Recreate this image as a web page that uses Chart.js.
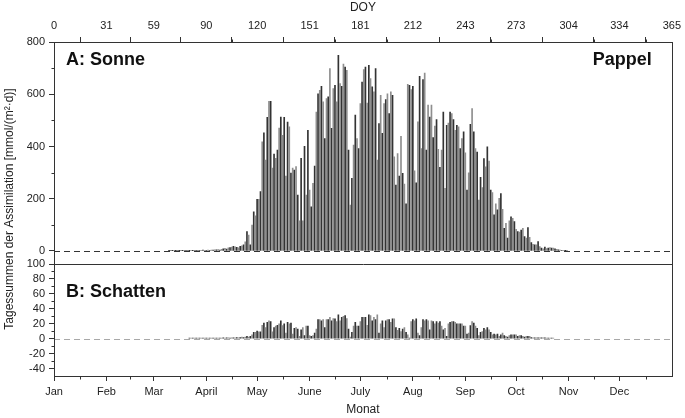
<!DOCTYPE html>
<html>
<head>
<meta charset="utf-8">
<script src="https://cdn.jsdelivr.net/npm/chart.js@4.4.0/dist/chart.umd.min.js"></script>
<style>
  html, body { margin: 0; padding: 0; background: #fff; }
  #wrap { position: relative; width: 685px; height: 418px; }
</style>
</head>
<body>
<div id="wrap"><canvas id="chart" width="685" height="418"></canvas></div>
<script>
// axis labels
const monthLabels = ['Jan', 'Feb', 'Mar', 'April', 'May', 'June', 'July', 'Aug', 'Sep', 'Oct', 'Nov', 'Dec'];
const monthStarts = [0, 31, 59, 90, 120, 151, 181, 212, 243, 273, 304, 334];
const doyTicks = [0, 31, 59, 90, 120, 151, 181, 212, 243, 273, 304, 334, 365];
const sonneTicks = [0, 200, 400, 600, 800];
const schattenTicks = [-40, -20, 0, 20, 40, 60, 80, 100];

// A: Sonne, daily sums from DOY 68
const sonneStart = 68;
const sonne = [
  1, 1, 1, 1, 1, 1, 1, 1, 1, 1, 2, 1, 1, 2, 1, 1, 2, 1,
  2, 2, 3, 2, 2, 3, 2, 3, 3, 4,
  4, 5, 3, 6, 8, 10, 7, 12,
  13, 15, 18, 16, 14, 12, 18, 20,
  23, 35, 74, 61, 23, 99, 150, 134, 198, 198, 227, 418, 452, 348, 512, 573, 573, 317, 371, 355,
  386, 470, 513, 443, 512, 287, 493, 475, 298, 317, 310, 323, 214, 115, 355, 115, 401, 214, 462, 233, 169,
  259, 325, 532, 602, 615, 630, 571, 430, 583, 590, 698, 469, 622, 634, 571, 749, 641, 630, 715, 704,
  692, 386, 176, 278, 405, 520, 430, 392, 564, 647, 694, 704, 566, 711, 660, 628, 609, 698, 348, 488,
  596, 450, 564, 580, 602, 526, 609, 596, 360, 252,
  373, 287, 439, 297, 256, 180, 638, 634, 618, 630, 307, 261, 494, 669, 392, 656, 681, 386, 558, 513,
  558, 434, 478, 503, 389, 320, 386, 532, 240, 481, 490, 532, 526, 503, 462, 481, 475, 392, 430, 456,
  376, 233, 299, 485, 545, 456, 392, 379, 195, 282,
  243, 354, 322, 399, 344, 233, 223, 138, 180, 157, 201, 220, 159, 87, 106, 49, 115, 131, 125, 112,
  83, 74, 72, 80, 87, 55, 49, 89, 52, 32, 25, 23, 23, 36, 17, 11, 8, 15, 9, 11,
  13, 11, 11, 8, 6, 4, 3, 2, 2, 1, 1
];

// B: Schatten, daily sums from DOY 80
const schattenStart = 80;
const schatten = [
  0.5, 0.5, 0.5, 0.5, 0.5, 0.5, 0.5, 0.5, 0.5, 0.5, 0.5, 0.5, 0.5, 0.5, 0.5, 0.5, 0.5, 0.5,
  0.5, 0.5, 1, 0.5, 1, 1, 0.5, 1, 1, 1, 1.5, 1, 1.5, 2, 1.5, 2,
  3, 2, 3, 5, 8.5, 8.5, 10, 9, 9,
  18, 21, 15, 22, 24, 23, 9, 15, 17, 18, 20, 24, 17.5, 20, 7.6, 22, 20, 21, 6, 14,
  15, 13, 3, 12, 15, 4, 17, 17, 4, 3, 4, 7.6, 13, 25.6, 25.6, 24, 25.6, 15, 25.6,
  25.6, 28.7, 24, 27, 26.5, 23, 31.8, 24, 28.7,
  30, 31, 27, 13, 2, 8.5, 17, 22, 17, 17, 23, 28.7, 28.7, 28.7, 18, 32, 31, 24, 28.7, 25.6,
  32, 7.6, 20, 24, 15, 24, 25.6, 25.6, 22, 26.5, 26.5, 15, 11, 14, 9.4, 13, 15, 8.5, 5, 0.5,
  23, 25.6, 24, 26.5, 7.6, 4, 15, 25.6, 24, 25.6, 24, 12, 24, 23, 20, 23, 21, 23, 17, 12,
  14, 3, 20, 22, 23, 23, 22, 20, 20, 20, 20, 17, 17,
  6, 7.6, 17.5, 23, 21, 17, 14, 4, 8.5, 9.4, 14, 12, 15, 12, 8.5, 5, 6, 5, 6, 3,
  5, 7.6, 4, 3, 2, 4, 5, 5, 5, 5, 3, 4, 4, 3, 2, 3, 3, 3, 1.3,
  1, 1, 1, 1, 1, 1, 1, 1, 0.8, 0.8, 0.5, 0.5, 0.5
];

const INK = '#222';
const FONT = '"Liberation Sans", Arial, sans-serif';
Chart.defaults.font.family = FONT;
Chart.defaults.color = INK;

const toPoints = (start, vals) => vals.map((v, i) => ({ x: start + i, y: v }));
const shades = n => Array.from({ length: n }, (_, i) => (i % 2 ? '#8e8e8e' : '#333333'));

const mids = arr => arr.slice(1).map((v, i) => (v + arr[i]) / 2);

// minor ticks, outer frame, zero lines, panel labels
const decor = {
  id: 'decor',
  afterDatasetsDraw(chart) {
    const { ctx, chartArea: a, scales } = chart;
    const yA = scales.yA, yB = scales.yB, x = scales.x, x2 = scales.x2;
    ctx.save();

    // zero lines
    ctx.lineWidth = 1;
    ctx.setLineDash([6, 4]);
    ctx.strokeStyle = '#333';
    let z = Math.round(yA.getPixelForValue(0)) + 0.5;
    ctx.beginPath(); ctx.moveTo(a.left, z); ctx.lineTo(a.right, z); ctx.stroke();
    ctx.strokeStyle = '#a8a8a8';
    z = Math.round(yB.getPixelForValue(0)) + 0.5;
    ctx.beginPath(); ctx.moveTo(a.left, z); ctx.lineTo(a.right, z); ctx.stroke();
    ctx.setLineDash([]);

    // frame + divider
    ctx.strokeStyle = '#333';
    const L = Math.round(a.left) + 0.5, R = Math.round(a.right) + 0.5;
    const T = Math.round(a.top) + 0.5, B = Math.round(a.bottom) + 0.5;
    ctx.strokeRect(L, T, R - L, B - T);
    const D = Math.round(yB.top) + 0.5;
    ctx.beginPath(); ctx.moveTo(L, D); ctx.lineTo(R, D); ctx.stroke();

    // minor ticks
    ctx.beginPath();
    mids(doyTicks).forEach(v => { const p = Math.round(x2.getPixelForValue(v)) + 0.5; ctx.moveTo(p, T); ctx.lineTo(p, T - 3); });
    mids(monthStarts.concat(365)).forEach(v => { const p = Math.round(x.getPixelForValue(v)) + 0.5; ctx.moveTo(p, B); ctx.lineTo(p, B + 3); });
    mids(sonneTicks).forEach(v => { const p = Math.round(yA.getPixelForValue(v)) + 0.5; ctx.moveTo(L, p); ctx.lineTo(L - 3, p); });
    mids(schattenTicks).forEach(v => { const p = Math.round(yB.getPixelForValue(v)) + 0.5; ctx.moveTo(L, p); ctx.lineTo(L - 3, p); });
    ctx.stroke();

    // panel labels
    ctx.fillStyle = '#111';
    ctx.font = 'bold 18px ' + FONT;
    ctx.textBaseline = 'middle';
    ctx.textAlign = 'left';
    ctx.fillText('A: Sonne', a.left + 12, a.top + 18);
    ctx.fillText('B: Schatten', a.left + 12, yB.top + 28);
    ctx.textAlign = 'right';
    ctx.fillText('Pappel', a.right - 20, a.top + 18);

    // y title spanning both panels
    ctx.font = '12px ' + FONT;
    ctx.fillStyle = INK;
    ctx.textAlign = 'center';
    ctx.translate(10, (a.top + a.bottom) / 2);
    ctx.rotate(-Math.PI / 2);
    ctx.fillText('Tagessummen der Assimilation [mmol/(m\u00B2\u00B7d)]', 0, 0);
    ctx.restore();
  }
};

const tickFont = { size: 11, family: FONT };
const gridOpts = { drawOnChartArea: false, tickLength: 5, color: '#333', tickColor: '#333' };

new Chart(document.getElementById('chart'), {
  type: 'bar',
  data: {
    datasets: [
      {
        label: 'Sonne', data: toPoints(sonneStart, sonne), xAxisID: 'x', yAxisID: 'yA',
        backgroundColor: shades(sonne.length), borderWidth: 0, barThickness: 1, grouped: false
      },
      {
        label: 'Schatten', data: toPoints(schattenStart, schatten), xAxisID: 'x', yAxisID: 'yB',
        backgroundColor: shades(schatten.length), borderWidth: 0, barThickness: 1, grouped: false
      }
    ]
  },
  options: {
    responsive: false,
    animation: false,
    devicePixelRatio: 1,
    layout: { padding: { left: 0, right: 10, top: 0, bottom: 0 } },
    plugins: { legend: { display: false }, tooltip: { enabled: false } },
    scales: {
      x: {
        type: 'linear', position: 'bottom', min: 0, max: 365, offset: false,
        afterBuildTicks: s => { s.ticks = monthStarts.map(v => ({ value: v })); },
        afterFit: s => { s.height = 42; },
        ticks: { autoSkip: false, maxRotation: 0, padding: 4, font: tickFont, color: INK, callback: (v, i) => monthLabels[i] },
        grid: Object.assign({ offset: false }, gridOpts),
        border: { display: false },
        title: { display: true, text: 'Monat', font: { size: 12, family: FONT }, color: INK, padding: { top: 0, bottom: 1 } }
      },
      x2: {
        type: 'linear', position: 'top', min: 0, max: 365, offset: false,
        afterBuildTicks: s => { s.ticks = doyTicks.map(v => ({ value: v })); },
        afterFit: s => { s.height = 42; },
        ticks: { autoSkip: false, maxRotation: 0, padding: 4, font: tickFont, color: INK },
        grid: gridOpts,
        border: { display: false },
        title: { display: true, text: 'DOY', font: { size: 12, family: FONT }, color: INK, padding: { top: 0, bottom: 0 } }
      },
      // left boxes are stacked in reverse order: yB listed first ends up at the bottom
      yB: {
        type: 'linear', position: 'left', stack: 'panels', stackWeight: 112, min: -50, max: 100,
        afterBuildTicks: s => { s.ticks = schattenTicks.map(v => ({ value: v })); },
        afterFit: s => { s.width = 54; },
        ticks: { autoSkip: false, padding: 4, font: tickFont, color: INK },
        grid: gridOpts,
        border: { display: false }
      },
      yA: {
        type: 'linear', position: 'left', stack: 'panels', stackWeight: 222, min: -50, max: 800,
        afterBuildTicks: s => { s.ticks = sonneTicks.map(v => ({ value: v })); },
        afterFit: s => { s.width = 54; },
        ticks: { autoSkip: false, padding: 4, font: tickFont, color: INK },
        grid: gridOpts,
        border: { display: false }
      }
    }
  },
  plugins: [decor]
});
</script>
</body>
</html>
